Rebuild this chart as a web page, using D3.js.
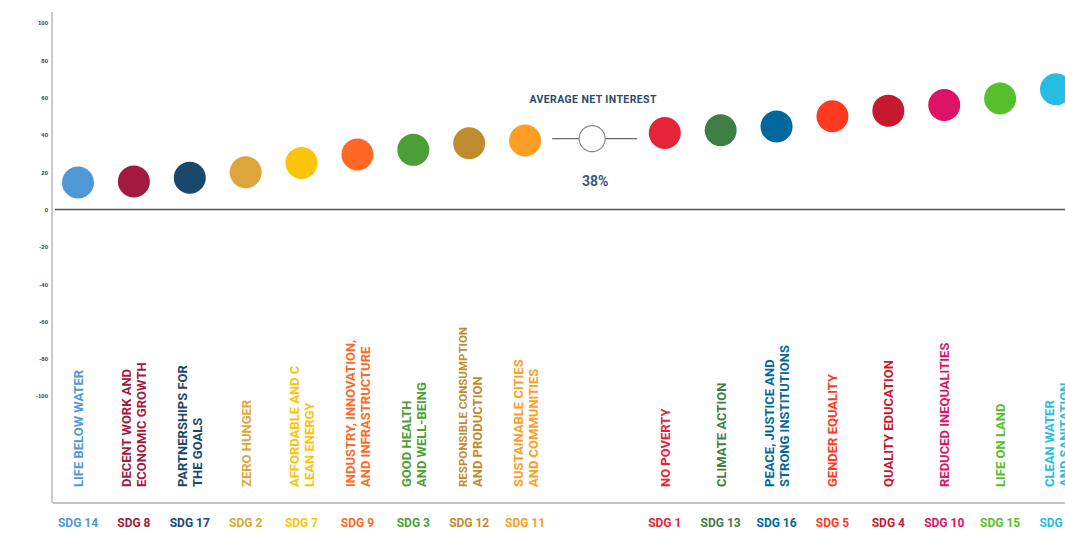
<!DOCTYPE html>
<html>
<head>
<meta charset="utf-8">
<script src="https://cdn.jsdelivr.net/npm/d3@7/dist/d3.min.js"></script>
<style>
  html, body { margin: 0; padding: 0; background: #fff; }
  svg { display: block; }
  text { font-family: "Liberation Sans Narrow", "Arial Narrow", "Roboto", sans-serif; font-weight: bold; }
</style>
</head>
<body>
<svg id="chart" width="1065" height="533"></svg>
<script>
// Sustainable Development Goals ordered by net interest (%)
const goals = ["SDG 14", "SDG 8", "SDG 17", "SDG 2", "SDG 7", "SDG 9", "SDG 3", "SDG 12", "SDG 11",
               "SDG 1", "SDG 13", "SDG 16", "SDG 5", "SDG 4", "SDG 10", "SDG 15", "SDG 6"];
const netInterest = [14.5, 15, 17, 20, 25, 29.5, 32, 35.5, 37,
                     41, 42.5, 44.5, 50, 53, 56, 59.5, 64.5];
const goalNames = [
  ["LIFE BELOW WATER"],
  ["DECENT WORK AND", "ECONOMIC GROWTH"],
  ["PARTNERSHIPS FOR", "THE GOALS"],
  ["ZERO HUNGER"],
  ["AFFORDABLE AND C", "LEAN ENERGY"],
  ["INDUSTRY, INNOVATION,", "AND INFRASTRUCTURE"],
  ["GOOD HEALTH", "AND WELL-BEING"],
  ["RESPONSIBLE CONSUMPTION", "AND PRODUCTION"],
  ["SUSTAINABLE CITIES", "AND COMMUNITIES"],
  ["NO POVERTY"],
  ["CLIMATE ACTION"],
  ["PEACE, JUSTICE AND", "STRONG INSTITUTIONS"],
  ["GENDER EQUALITY"],
  ["QUALITY EDUCATION"],
  ["REDUCED INEQUALITIES"],
  ["LIFE ON LAND"],
  ["CLEAN WATER", "AND SANITATION"]
];
const goalColors = ["#4f98d6", "#a21942", "#19486a", "#dda63a", "#fcc30b", "#fd6925", "#4c9f38", "#bf8b2e", "#fd9d24",
                    "#e5243b", "#3f7e44", "#00689d", "#ff3a21", "#c5192d", "#dd1367", "#56c02b", "#26bde2"];
const averageInterest = 38;
const averageLabel = "AVERAGE NET INTEREST";
const yTicks = [100, 80, 60, 40, 20, 0, -20, -40, -60, -80, -100];

const svg = d3.select("#chart");

// Goals below the average sit left of the average marker, the rest to the right
const splitAt = goals.length - 8;
const slotOf = i => (i < splitAt ? i : i + 1.5);
const averageSlot = splitAt - 1 + 1.2;

const x = d3.scaleLinear().domain([0, 17.5]).range([78, 1056]);
const y = d3.scaleLinear().domain([-100, 100]).range([396, 23]);

// Axes frame
svg.append("line")
  .attr("x1", 52).attr("x2", 52).attr("y1", 12).attr("y2", 503)
  .attr("stroke", "#a8a8a8").attr("stroke-width", 1.2);
svg.append("line")
  .attr("x1", 53).attr("x2", 1065).attr("y1", 503).attr("y2", 503)
  .attr("stroke", "#c4c4c4").attr("stroke-width", 2);

const yAxis = svg.append("g")
  .attr("transform", "translate(50,0)")
  .call(d3.axisLeft(y).tickValues(yTicks).tickSize(0).tickPadding(2).tickFormat(d => String(d)));
yAxis.select(".domain").remove();
yAxis.selectAll("text")
  .attr("fill", "#444")
  .style("font-size", "6px")
  .style("font-family", "\"Liberation Sans Narrow\", sans-serif")
  .style("font-weight", "bold");

// Zero baseline
svg.append("line")
  .attr("x1", 55).attr("x2", 1065).attr("y1", y(0)).attr("y2", y(0))
  .attr("stroke", "#555").attr("stroke-width", 1.6);

// Goal markers
svg.append("g").selectAll("circle")
  .data(goals)
  .join("circle")
  .attr("cx", (d, i) => x(slotOf(i)))
  .attr("cy", (d, i) => y(netInterest[i]))
  .attr("r", 16)
  .attr("fill", (d, i) => goalColors[i]);

// Average marker
const ax = x(averageSlot), ay = y(averageInterest);
svg.append("line").attr("x1", ax - 40).attr("x2", ax - 13).attr("y1", ay).attr("y2", ay)
  .attr("stroke", "#666").attr("stroke-width", 1.2);
svg.append("line").attr("x1", ax + 13).attr("x2", ax + 45).attr("y1", ay).attr("y2", ay)
  .attr("stroke", "#666").attr("stroke-width", 1.2);
svg.append("circle").attr("cx", ax).attr("cy", ay).attr("r", 13)
  .attr("fill", "#fff").attr("stroke", "#8a8a8a").attr("stroke-width", 1.2);
svg.append("text").attr("x", ax + 1).attr("y", ay - 36)
  .attr("text-anchor", "middle").attr("fill", "#2c4a6a")
  .style("font-size", "10.5px").style("letter-spacing", "0.4px").text(averageLabel);
svg.append("text").attr("x", ax + 3).attr("y", ay + 47)
  .attr("text-anchor", "middle").attr("fill", "#3a5a7a")
  .style("font-size", "14px").text(averageInterest + "%");

// Vertical goal names
const names = svg.append("g").selectAll("g")
  .data(goals)
  .join("g")
  .attr("transform", (d, i) => `translate(${x(slotOf(i))},487)`);
names.each(function (d, i) {
  const lines = goalNames[i];
  const g = d3.select(this);
  lines.forEach((t, k) => {
    const off = (k - (lines.length - 1) / 2) * 15;
    g.append("text")
      .attr("transform", `translate(${off + 5},0) rotate(-90)`)
      .attr("fill", goalColors[i])
      .style("font-size", t.length > 21 ? "11.5px" : "13px")
      .text(t);
  });
});

// Goal codes along the bottom
svg.append("g").selectAll("text")
  .data(goals)
  .join("text")
  .attr("x", (d, i) => x(slotOf(i)))
  .attr("y", 527)
  .attr("text-anchor", "middle")
  .attr("fill", (d, i) => goalColors[i])
  .style("font-size", "12px")
  .text(d => d);
</script>
</body>
</html>
